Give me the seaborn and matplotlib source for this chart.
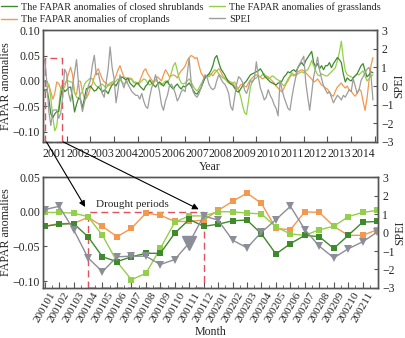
import numpy as np
import pandas as pd
import matplotlib
matplotlib.use("Agg")
import matplotlib.pyplot as plt
from matplotlib.patches import ConnectionPatch
from matplotlib.lines import Line2D
from matplotlib.ticker import FuncFormatter, FixedLocator
import seaborn as sns

# ---------------- data ----------------
years = list(range(2001, 2015))

# monthly FAPAR anomalies, closed shrublands (2001-2014)
shrub = [
    -0.021, -0.018, -0.017, -0.036, -0.065, -0.072, -0.065, -0.060, -0.060, -0.031, -0.011, -0.021,
    -0.018, -0.013, -0.012, -0.032, -0.061, -0.046, -0.034, -0.036, -0.053, -0.034, -0.015, -0.014,
    -0.010, -0.015, -0.020, -0.018, -0.012, -0.016, -0.022, -0.018, -0.020, -0.025, -0.015, -0.008,
    -0.005, -0.010, -0.002, 0.004, 0.008, 0.005, 0.002, 0.006, -0.004, -0.008, -0.012, -0.006,
    -0.004, -0.010, -0.014, -0.018, -0.010, -0.006, 0.002, -0.004, -0.008, -0.012, -0.006, -0.002,
    -0.006, -0.010, -0.004, 0.000, -0.008, -0.012, -0.016, -0.010, -0.006, -0.012, -0.016, -0.010,
    -0.012, -0.008, -0.004, -0.010, -0.018, -0.024, -0.026, -0.020, -0.014, -0.004, 0.006, 0.010,
    0.014, 0.020, 0.030, 0.045, 0.050, 0.036, 0.024, 0.018, 0.012, 0.004, -0.002, -0.006,
    -0.008, -0.014, -0.020, -0.022, -0.016, -0.010, -0.004, 0.000, 0.006, 0.012, 0.014, 0.016,
    0.018, 0.020, 0.024, 0.018, 0.010, 0.006, 0.002, -0.002, -0.004, -0.006, -0.008, -0.004,
    -0.004, 0.000, 0.008, 0.012, 0.018, 0.016, 0.020, 0.022, 0.018, 0.026, 0.032, 0.036,
    0.030, 0.040, 0.046, 0.052, 0.058, 0.036, 0.028, 0.034, 0.024, 0.030, 0.022, 0.030,
    0.030, 0.036, 0.026, 0.034, 0.040, 0.046, 0.042, 0.036, 0.014, -0.002, 0.006, 0.002,
    0.000, 0.006, 0.010, 0.014, 0.022, 0.030, 0.034, 0.020, 0.008, 0.012, 0.018, 0.016,
]

# monthly FAPAR anomalies, grasslands
grass = [
    -0.001, -0.001, -0.002, -0.007, -0.034, -0.072, -0.098, -0.089, -0.053, -0.015, -0.006, -0.006,
    0.000, 0.000, -0.002, -0.003, -0.022, -0.032, -0.034, -0.026, -0.021, -0.007, -0.001, 0.002,
    0.006, 0.004, -0.004, -0.010, -0.012, -0.008, -0.006, -0.010, -0.014, -0.008, -0.004, -0.002,
    -0.004, 0.000, 0.004, 0.002, -0.002, -0.006, -0.004, 0.000, 0.004, 0.002, -0.004, -0.002,
    -0.006, -0.004, 0.000, 0.004, 0.002, -0.004, -0.008, -0.006, -0.002, 0.002, -0.002, -0.006,
    -0.008, -0.004, 0.000, -0.004, 0.004, 0.016, 0.030, 0.036, 0.020, 0.004, -0.004, -0.006,
    -0.004, 0.000, 0.004, -0.002, -0.010, -0.016, -0.020, -0.014, -0.006, 0.000, 0.006, 0.010,
    0.008, 0.012, 0.018, 0.022, 0.020, 0.014, 0.010, 0.006, 0.004, 0.000, -0.004, -0.006,
    -0.004, -0.002, -0.010, -0.018, -0.030, -0.048, -0.062, -0.066, -0.040, -0.012, 0.000, 0.004,
    0.006, 0.010, 0.008, 0.012, 0.014, 0.008, 0.004, 0.006, 0.010, 0.008, 0.004, 0.002,
    -0.002, -0.006, -0.010, -0.004, 0.004, 0.010, 0.016, 0.012, 0.010, 0.014, 0.016, 0.018,
    0.016, 0.020, 0.022, 0.030, 0.040, 0.030, 0.020, 0.012, 0.010, 0.014, 0.012, 0.010,
    0.010, 0.014, 0.018, 0.022, 0.026, 0.040, 0.056, 0.078, 0.044, 0.020, 0.012, 0.010,
    0.008, 0.006, 0.010, 0.014, 0.012, 0.016, 0.020, 0.010, 0.000, 0.004, 0.010, 0.012,
]

# monthly FAPAR anomalies, croplands
crop = [
    -0.021, -0.017, -0.017, -0.008, -0.021, -0.036, -0.024, -0.002, -0.005, -0.014, -0.014, -0.012,
    0.002, 0.015, 0.027, 0.012, -0.024, -0.026, 0.000, -0.001, -0.021, -0.034, -0.034, -0.026,
    -0.014, -0.006, 0.008, 0.018, 0.024, 0.014, 0.004, -0.002, -0.004, -0.010, -0.008, -0.004,
    0.000, 0.010, 0.022, 0.030, 0.018, 0.008, 0.006, 0.004, 0.006, 0.004, -0.002, -0.004,
    -0.006, 0.000, 0.010, 0.020, 0.024, 0.014, 0.008, 0.002, -0.004, 0.002, 0.008, 0.004,
    0.000, 0.012, 0.022, 0.016, 0.008, 0.010, 0.012, 0.010, 0.006, 0.014, 0.020, 0.024,
    0.030, 0.040, 0.046, 0.050, 0.048, 0.044, 0.046, 0.030, 0.016, 0.010, 0.006, 0.010,
    0.012, 0.014, 0.010, 0.016, 0.020, 0.024, 0.018, 0.010, 0.006, 0.004, 0.000, -0.002,
    -0.004, -0.010, -0.016, -0.014, -0.008, -0.006, -0.010, -0.012, -0.004, 0.002, 0.006, 0.010,
    0.012, 0.010, 0.008, 0.004, 0.006, 0.010, 0.008, 0.004, 0.000, -0.004, -0.010, -0.014,
    -0.018, -0.022, -0.014, -0.006, 0.000, 0.008, 0.012, 0.010, 0.014, 0.018, 0.020, 0.022,
    0.020, 0.016, 0.012, 0.008, 0.004, -0.002, 0.000, 0.004, -0.002, -0.008, -0.010, -0.014,
    -0.016, -0.022, -0.028, -0.030, -0.020, -0.012, -0.008, -0.004, -0.010, -0.014, -0.010, -0.018,
    -0.020, -0.026, -0.030, -0.024, -0.016, -0.020, -0.040, -0.058, -0.034, 0.000, 0.030, 0.046,
]

# monthly SPEI
spei = [
    1.24, 1.42, 0.16, -1.37, -2.12, -1.31, -1.28, -1.28, -1.73, -1.46, -0.56, 0.90,
    0.67, -0.41, -0.83, 0.02, 0.70, 1.42, 0.16, -0.74, -1.37, -0.88, -0.50, 0.02,
    0.30, 1.10, 1.65, 0.60, 0.70, 0.20, -0.40, -0.60, 0.20, 0.90, 2.10, 1.00,
    0.40, -0.90, -0.20, 0.60, 0.20, -0.10, 0.30, 0.10, -0.10, -0.30, -0.40, -0.50,
    -0.50, -0.70, -0.40, -0.80, -1.10, -1.20, -0.60, -0.10, 0.20, 0.60, 0.20, -0.30,
    -1.00, -1.30, -0.80, -0.50, 0.00, 0.10, -0.10, -0.40, -0.80, -0.60, -0.30, -0.20,
    -0.30, 0.60, 1.50, 0.20, -0.30, -0.50, -0.60, -0.40, -0.10, 0.30, 0.60, 0.50,
    0.10, -0.10, -0.20, -0.10, 0.30, 0.60, 0.40, 0.20, 0.10, -0.10, -0.40, -1.10,
    -1.30, -0.60, 0.10, 0.50, 0.40, 0.20, -0.20, -0.40, -0.10, 0.30, 0.20, 0.40,
    1.30, 0.50, -0.10, -0.40, -0.75, -0.60, -0.20, -0.50, -0.70, -1.00, -1.20, -1.60,
    0.30, -0.20, -0.60, -0.90, -1.20, -1.30, -0.60, 0.00, 0.50, 1.00, 1.20, 1.40,
    1.60, 0.20, -0.60, -1.30, -0.40, 0.50, 1.00, 1.55, 0.85, 0.40, 0.00, -0.20,
    -0.40, -0.30, -0.60, -0.90, -0.70, -0.50, -0.60, -0.75, -0.50, -0.60, -0.40, -0.20,
    -0.30, 0.40, 0.00, -0.40, -0.20, 0.30, 0.50, 0.70, 0.90, 1.00, 0.60, -0.75,
]

# detail panel: January 2001 to December 2002
months = ["200101", "200102", "200103", "200104", "200105", "200106",
          "200107", "200108", "200109", "200110", "200111", "200112",
          "200201", "200202", "200203", "200204", "200205", "200206",
          "200207", "200208", "200209", "200210", "200211", "200212"]
month_ticklabels = months[:23]
shrub_m = shrub[:24]
grass_m = grass[:24]
crop_m = crop[:24]
spei_m = spei[:24]
drought_start, drought_end = "200104", "200112"
highlight_month = "200111"

labels = ["The FAPAR anomalies of closed shrublands",
          "The FAPAR anomalies of croplands",
          "The FAPAR anomalies of grasslands",
          "SPEI"]

# ---------------- style ----------------
sns.set_style("ticks")
plt.rcParams["font.family"] = ["Liberation Serif", "DejaVu Serif"]
plt.rcParams["axes.unicode_minus"] = True

c_shrub = "#3e8a2c"
c_grass = "#93cf4a"
c_crop = "#f3984c"
c_spei = "#9d9d9d"
c_spei_m = "#8b8e98"
c_red = "#e0505e"
spine_c = "#555555"
fs_tick = 8.5
fs_lab = 8.6

minus = lambda fmt: FuncFormatter(lambda v, p: (fmt % v).replace("-", "\u2212"))

fig = plt.figure(figsize=(4.05, 3.38), dpi=100)
ax1 = fig.add_axes([0.106, 0.580, 0.825, 0.331])
ax1r = ax1.twinx()
ax2 = fig.add_axes([0.106, 0.148, 0.827, 0.328])
ax2r = ax2.twinx()

# ---------------- top panel: monthly series ----------------
n = len(shrub)
t = years[0] + np.arange(n) / 12.0
df = pd.DataFrame({"t": t, "shrub": shrub, "grass": grass, "crop": crop, "spei": spei})

sns.lineplot(data=df, x="t", y="crop", ax=ax1, color=c_crop, lw=0.9)
sns.lineplot(data=df, x="t", y="grass", ax=ax1, color=c_grass, lw=0.9)
sns.lineplot(data=df, x="t", y="shrub", ax=ax1, color=c_shrub, lw=0.9)
sns.lineplot(data=df, x="t", y="spei", ax=ax1r, color=c_spei, lw=0.9)

ax1.set_xlim(2001, 2015.09)
ax1.set_ylim(-0.12, 0.10)
ax1r.set_ylim(-3, 3)
ax1.set_yticks([-0.10, -0.05, 0.00, 0.05, 0.10])
ax1.yaxis.set_major_formatter(minus("%.2f"))
ax1r.set_yticks(range(-3, 4))
ax1r.yaxis.set_major_formatter(minus("%d"))
ax1.xaxis.set_major_locator(FixedLocator(list(range(2001, 2016))))
ax1.xaxis.set_major_formatter(FuncFormatter(lambda v, p: ""))
ax1.xaxis.set_minor_locator(FixedLocator([y + 0.5 for y in years]))
ax1.xaxis.set_minor_formatter(FuncFormatter(lambda v, p: str(int(v))))
ax1.tick_params(axis="x", which="minor", length=0, pad=4, labelsize=fs_tick)
ax1.tick_params(axis="x", which="major", direction="in", length=4, color=spine_c)
ax1.tick_params(axis="y", direction="in", length=3, labelsize=fs_tick, color=spine_c, pad=2)
ax1r.tick_params(axis="y", direction="in", length=3, labelsize=fs_tick, color=spine_c, pad=3)
ax1.set_xlabel("Year", fontsize=fs_lab, labelpad=1)
ax1.set_ylabel("FAPAR anomalies", fontsize=fs_lab)
ax1r.set_ylabel("SPEI", fontsize=fs_lab)
ax1.yaxis.set_label_coords(-0.092, 0.5)
ax1r.yaxis.set_label_coords(1.048, 0.5)

# drought window marked on the long series
bx0, bx1, btop = 2001.08, 2001.80, 0.045
ax1.plot([bx0, bx0, bx1, bx1], [-0.12, btop, btop, -0.12], ls=(0, (5, 3)),
         color=c_red, lw=1.0, clip_on=False, zorder=5)
ax1.plot([bx0, bx1], [-0.12, -0.12], ls=(0, (5, 3)), color=c_red, lw=1.0,
         clip_on=False, zorder=5)

# ---------------- bottom panel: 2001-2002 monthly detail ----------------
pos = np.arange(len(months))
dm = pd.DataFrame({"pos": pos, "month": months, "shrub": shrub_m, "grass": grass_m,
                   "crop": crop_m, "spei": spei_m})
ms = 4
sns.lineplot(data=dm, x="pos", y="crop", ax=ax2, color=c_crop, lw=1.0,
             marker="s", markersize=ms, markeredgewidth=0)
sns.lineplot(data=dm, x="pos", y="grass", ax=ax2, color=c_grass, lw=1.0,
             marker="s", markersize=ms, markeredgewidth=0)
sns.lineplot(data=dm, x="pos", y="shrub", ax=ax2, color=c_shrub, lw=1.0,
             marker="s", markersize=ms, markeredgewidth=0)
sns.lineplot(data=dm, x="pos", y="spei", ax=ax2r, color=c_spei_m, lw=1.0,
             marker="v", markersize=5.5, markeredgewidth=0)
hi = dm[dm["month"] == highlight_month]
ax2r.plot(hi["pos"], hi["spei"], marker="v", ms=10, color=c_spei_m, ls="none", zorder=6)

ax2.set_xlim(-0.12, 23.05)
ax2.set_ylim(-0.11, 0.05)
ax2r.set_ylim(-3, 3)
ax2.set_yticks([-0.10, -0.05, 0.00, 0.05])
ax2.yaxis.set_major_formatter(minus("%.2f"))
ax2r.set_yticks(range(-3, 4))
ax2r.yaxis.set_major_formatter(minus("%d"))
ax2.set_xticks(pos[:len(month_ticklabels)])
ax2.set_xticklabels(month_ticklabels, rotation=60, ha="center", fontsize=8.2)
ax2.set_xticks(pos[:-1] + 0.5, minor=True)
ax2.tick_params(axis="x", which="major", direction="in", length=4, color=spine_c, pad=2)
ax2.tick_params(axis="x", which="minor", direction="in", length=2, color=spine_c)
ax2.tick_params(axis="y", direction="in", length=3, labelsize=fs_tick, color=spine_c, pad=2)
ax2r.tick_params(axis="y", direction="in", length=3, labelsize=fs_tick, color=spine_c, pad=3)
ax2.set_xlabel("Month", fontsize=fs_lab)
ax2.set_ylabel("FAPAR anomalies", fontsize=fs_lab)
ax2r.set_ylabel("SPEI", fontsize=fs_lab)
ax2.yaxis.set_label_coords(-0.092, 0.5)
ax2r.yaxis.set_label_coords(1.048, 0.5)
ax2.xaxis.set_label_coords(0.5, -0.345)

# drought period box
d0 = months.index(drought_start)
d1 = months.index(drought_end)
ax2.plot([d0, d0, d1, d1], [-0.11, 0.0, 0.0, -0.11], ls=(0, (5, 3)), color=c_red,
         lw=1.0, clip_on=False, zorder=1)
ax2.plot([d0, d1], [-0.11, -0.11], ls=(0, (5, 3)), color=c_red, lw=1.2,
         clip_on=False, zorder=1, alpha=0.6)
ax2.text((d0 + d1) / 2 - 0.9, 0.011, "Drought periods", fontsize=8, ha="center",
         va="center")

for ax in (ax1, ax1r, ax2, ax2r):
    for s in ax.spines.values():
        s.set_color(spine_c)
        s.set_linewidth(1.0)
    ax.grid(False)

# arrows linking the window on the long series to the detail panel
for xa, xb in ((2001.15, d0), (2001.86, d1)):
    con = ConnectionPatch(xyA=(xa, -0.12), coordsA=ax1.transData,
                          xyB=(xb, 0.0), coordsB=ax2.transData,
                          arrowstyle="-|>", mutation_scale=9, color="black",
                          lw=0.8, shrinkA=0, shrinkB=4, zorder=10)
    fig.add_artist(con)

# legend across the top
handles = [Line2D([], [], color=c_shrub, lw=1.0),
           Line2D([], [], color=c_crop, lw=1.0),
           Line2D([], [], color=c_grass, lw=1.0),
           Line2D([], [], color=c_spei, lw=1.0)]
fig.legend(handles, labels, loc="upper left", bbox_to_anchor=(0.0, 0.997), ncol=2,
           frameon=False, fontsize=7.5, handlelength=1.55, handletextpad=0.4,
           columnspacing=0.45, labelspacing=0.26, borderaxespad=0, borderpad=0.1)

fig.savefig("out.png", dpi=100)
